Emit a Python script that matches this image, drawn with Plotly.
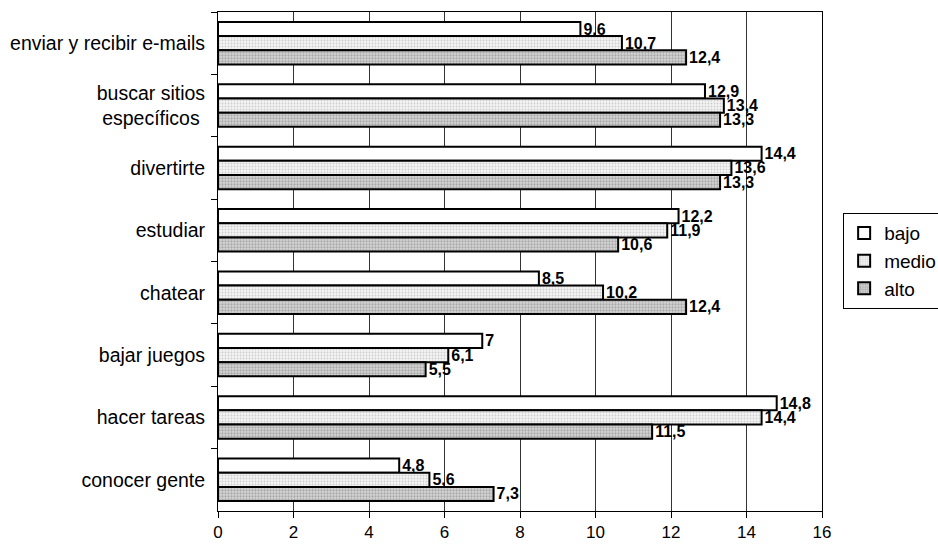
import plotly.graph_objects as go

# Activities (top to bottom) and share for each group
categories = [
    "enviar y recibir e-mails",
    "buscar sitios<br>específicos ",
    "divertirte",
    "estudiar",
    "chatear",
    "bajar juegos",
    "hacer tareas",
    "conocer gente",
]
bajo = [9.6, 12.9, 14.4, 12.2, 8.5, 7, 14.8, 4.8]
medio = [10.7, 13.4, 13.6, 11.9, 10.2, 6.1, 14.4, 5.6]
alto = [12.4, 13.3, 13.3, 10.6, 12.4, 5.5, 11.5, 7.3]
x_ticks = [0, 2, 4, 6, 8, 10, 12, 14, 16]


def fmt(v):
    return f"{v:g}".replace(".", ",")


FONT = "Liberation Sans, Arial, sans-serif"

series = [
    ("bajo", bajo, dict(color="white")),
    ("medio", medio, dict(color="white",
                          pattern=dict(shape=".", fgcolor="#a8a8a8", bgcolor="#f4f4f4",
                                       size=3, solidity=0.3))),
    ("alto", alto, dict(color="white",
                        pattern=dict(shape=".", fgcolor="#7c7c7c", bgcolor="#d6d6d6",
                                     size=3, solidity=0.45))),
]

fig = go.Figure()
for name, vals, marker in series:
    marker = dict(marker, line=dict(color="black", width=2))
    fig.add_trace(go.Bar(
        y=categories, x=vals, name=name, orientation="h",
        legendgroup=name,
        marker=marker,
        text=[fmt(v) for v in vals],
        textposition="outside",
        constraintext="none",
        cliponaxis=False,
        textfont=dict(family=FONT, size=16, color="black", weight="bold"),
    ))

fig.update_layout(
    width=938, height=549,
    margin=dict(l=218, r=116, t=12, b=38, autoexpand=False),
    paper_bgcolor="white", plot_bgcolor="white",
    barmode="group", bargap=0.32, bargroupgap=0,
    font=dict(family=FONT, size=19, color="black"),
    showlegend=True,
    legend=dict(
        x=1.035, y=0.597, xanchor="left", yanchor="top",
        bordercolor="black", borderwidth=1, bgcolor="white",
        font=dict(family=FONT, size=19, color="black"),
        traceorder="grouped", tracegroupgap=0, itemwidth=30,
    ),
    xaxis=dict(
        range=[0, 16], tickvals=x_ticks, ticktext=[str(t) for t in x_ticks],
        showgrid=True, gridcolor="#333", gridwidth=1,
        showline=True, linecolor="black", linewidth=1, mirror=True,
        ticks="outside", ticklen=6, tickcolor="black",
        zeroline=False,
        tickfont=dict(family=FONT, size=17),
    ),
    yaxis=dict(
        autorange="reversed",
        showline=True, linecolor="black", linewidth=1, mirror=True,
        ticks="outside", ticklen=6, tickcolor="black", tickson="boundaries",
        ticklabelstandoff=8,
        showgrid=False,
        tickfont=dict(family=FONT, size=19.5),
    ),
)

fig.write_html("out.html")
